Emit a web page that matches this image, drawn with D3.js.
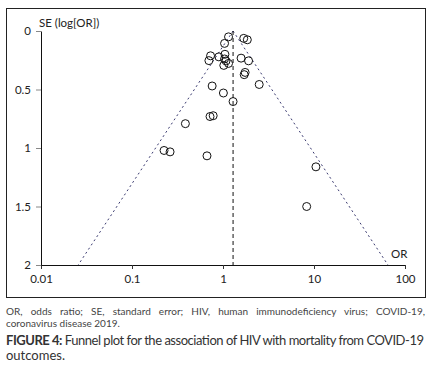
<!DOCTYPE html>
<html>
<head>
<meta charset="utf-8">
<script src="https://cdn.jsdelivr.net/npm/d3@7"></script>
<style>
  body { margin: 0; background: #fff; }
  svg { display: block; font-family: Lato, "Open Sans", sans-serif; }
</style>
</head>
<body>
<div id="chart-area"></div>
<script>
// study odds ratios and standard errors
var orValues = [1.15, 1.69, 1.85, 1.04, 0.73, 0.70, 0.90, 1.05, 1.04, 1.08, 1.15, 1.02, 1.58, 1.91,
                1.75, 1.71, 2.50, 0.76, 1.01, 1.29, 0.72, 0.78, 0.386, 0.225, 0.262, 0.667, 10.5, 8.31];
var seValues = [0.05, 0.063, 0.075, 0.106, 0.212, 0.253, 0.221, 0.199, 0.239, 0.256, 0.277, 0.294, 0.232, 0.255,
                0.354, 0.373, 0.457, 0.47, 0.53, 0.603, 0.731, 0.724, 0.792, 1.021, 1.033, 1.067, 1.161, 1.50];
var pooledOR = 1.29;
var xTicks = [0.01, 0.1, 1, 10, 100];
var yTicks = [0, 0.5, 1, 1.5, 2];

var width = 443, height = 370;

var svg = d3.select("#chart-area")
    .append("svg")
        .attr("width", width)
        .attr("height", height);

// frame round the figure
svg.append("rect")
    .attr("x", 6.5)
    .attr("y", 8.5)
    .attr("width", 419)
    .attr("height", 289)
    .attr("fill", "none")
    .attr("stroke", "#222")
    .attr("stroke-width", 1);

var xScale = d3.scaleLog()
    .domain([0.01, 100])
    .range([41, 405]);

var yScale = d3.scaleLinear()
    .domain([0, 2])
    .range([31, 265]);

var g = svg.append("g");

// axes
var xAxisCall = d3.axisBottom(xScale)
    .tickValues(xTicks)
    .tickSize(4)
    .tickSizeOuter(0)
    .tickFormat(function(d){ return d; });

var xAxis = g.append("g")
    .attr("transform", "translate(0," + yScale(2) + ")")
    .call(xAxisCall);
xAxis.select(".domain").attr("stroke", "#111");
xAxis.selectAll(".tick line").attr("stroke", "#333");
xAxis.selectAll("text")
    .attr("y", 10)
    .attr("font-size", "11.5px")
    .attr("fill", "#222")
    .attr("font-family", "Lato, sans-serif");

var yAxisCall = d3.axisLeft(yScale)
    .tickValues(yTicks)
    .tickSize(5)
    .tickSizeOuter(0)
    .tickFormat(function(d){ return d; });

var yAxis = g.append("g")
    .attr("transform", "translate(" + xScale(0.01) + ",0)")
    .call(yAxisCall);
yAxis.select(".domain").attr("stroke", "#111");
yAxis.selectAll(".tick line").attr("stroke", "#888");
yAxis.selectAll("text")
    .attr("x", -10)
    .attr("font-size", "11.5px")
    .attr("fill", "#222")
    .attr("font-family", "Lato, sans-serif");

// funnel: pooled log OR +/- 1.96 SE
var funnelLeft = [{ se: 0, or: pooledOR }, { se: 2, or: Math.exp(Math.log(pooledOR) - 1.96 * 2) }];
var funnelRight = [{ se: 0, or: pooledOR }, { se: 2, or: Math.exp(Math.log(pooledOR) + 1.96 * 2) }];

var line = d3.line()
    .x(function(d){ return xScale(d.or); })
    .y(function(d){ return yScale(d.se); });

[funnelLeft, funnelRight].forEach(function(f){
    g.append("path")
        .attr("d", line(f))
        .attr("fill", "none")
        .attr("stroke", "#3a3a70")
        .attr("stroke-width", 1)
        .attr("stroke-dasharray", "2,3");
});

g.append("line")
    .attr("x1", xScale(pooledOR))
    .attr("x2", xScale(pooledOR))
    .attr("y1", yScale(0))
    .attr("y2", yScale(2))
    .attr("stroke", "#111")
    .attr("stroke-width", 1)
    .attr("stroke-dasharray", "4,3");

// studies
var points = orValues.map(function(d, i){ return { or: d, se: seValues[i] }; });
g.selectAll("circle")
    .data(points)
    .enter()
    .append("circle")
    .attr("cx", function(d){ return xScale(d.or); })
    .attr("cy", function(d){ return yScale(d.se); })
    .attr("r", 4)
    .attr("fill", "none")
    .attr("stroke", "#111")
    .attr("stroke-width", 1);

// axis labels
g.append("text")
    .attr("x", 39)
    .attr("y", 27)
    .attr("font-size", "11.5px")
    .attr("fill", "#222")
    .text("SE (log[OR])");

g.append("text")
    .attr("x", 391)
    .attr("y", 258)
    .attr("font-size", "11.5px")
    .attr("fill", "#222")
    .text("OR");

// caption under the figure
var noteLine1 = svg.append("text")
    .attr("x", 6)
    .attr("y", 315)
    .attr("font-size", "10px")
    .attr("fill", "#444")
    .text("OR, odds ratio; SE, standard error; HIV, human immunodeficiency virus; COVID-19,");
// justify the first line by stretching word spacing
var words = noteLine1.text().split(" ").length - 1;
var extra = (419 - noteLine1.node().getComputedTextLength()) / words;
noteLine1.attr("word-spacing", extra > 0 ? extra : 0);

svg.append("text")
    .attr("x", 6)
    .attr("y", 327)
    .attr("font-size", "10px")
    .attr("fill", "#444")
    .text("coronavirus disease 2019.");

var fig1 = svg.append("text")
    .attr("x", 6)
    .attr("y", 345)
    .attr("font-size", "13px")
    .attr("fill", "#333")
    .attr("textLength", 418)
    .attr("lengthAdjust", "spacing");
fig1.append("tspan").attr("font-weight", "bold").text("FIGURE 4:");
fig1.append("tspan").text(" Funnel plot for the association of HIV with mortality from COVID-19");

svg.append("text")
    .attr("x", 6)
    .attr("y", 360)
    .attr("font-size", "13px")
    .attr("fill", "#333")
    .text("outcomes.");
</script>
</body>
</html>
